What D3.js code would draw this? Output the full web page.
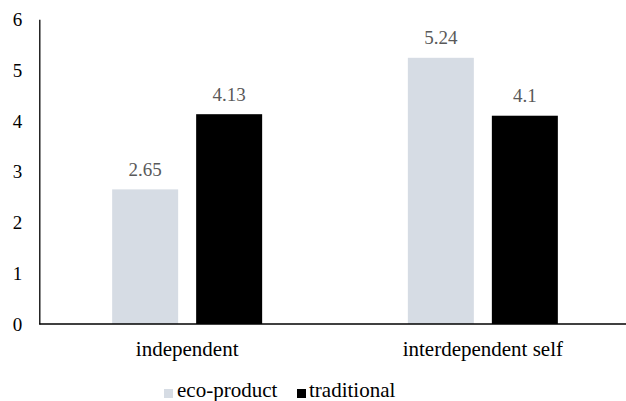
<!DOCTYPE html>
<html><head><meta charset="utf-8">
<script src="https://cdn.jsdelivr.net/npm/d3@7"></script>
<style>body{margin:0;background:#fff}svg{display:block}</style>
</head><body>
<svg id="c" width="626" height="401"></svg>
<script>
const categories = ["independent", "interdependent self"];
const seriesNames = ["eco-product", "traditional"];
const ecoValues = [2.65, 5.24];
const tradValues = [4.13, 4.1];
const valueLabels = [["2.65", "4.13"], ["5.24", "4.1"]];
const yTicks = [0, 1, 2, 3, 4, 5, 6];
const colors = ["#d6dce4", "#000000"];
const FONT = "'Liberation Serif', 'Times New Roman', Times, 'DejaVu Serif', serif";

const svg = d3.select("#c");
const x0 = d3.scaleBand().domain(categories).range([39.3, 630.7]).paddingInner(0).paddingOuter(0);
const y = d3.scaleLinear().domain([0, 6]).range([324, 19.2]);
const barW = 66, gap = 18;

const data = categories.map((c, i) => ({cat: c, vals: [ecoValues[i], tradValues[i]], labels: valueLabels[i]}));

data.forEach(d => {
  const cx = x0(d.cat) + x0.bandwidth() / 2;
  const xs = [cx - gap / 2 - barW, cx + gap / 2];
  d.vals.forEach((v, j) => {
    svg.append("rect").attr("x", xs[j]).attr("y", y(v)).attr("width", barW)
      .attr("height", y(0) - y(v)).attr("fill", colors[j]);
    svg.append("text").attr("x", xs[j] + barW / 2).attr("y", y(v) - 13.5)
      .attr("text-anchor", "middle").style("font-family", FONT).style("font-size", "19px")
      .attr("fill", "#595959").text(d.labels[j]);
  });
  svg.append("text").attr("x", cx).attr("y", 355.5).attr("text-anchor", "middle")
    .style("font-family", FONT).style("font-size", "21px").attr("fill", "#000").text(d.cat);
});

const yAxis = d3.axisLeft(y).tickValues(yTicks).tickSize(0).tickPadding(17).tickFormat(d3.format("d"));
const gy = svg.append("g").attr("transform", "translate(39.3,0)").call(yAxis)
  .attr("font-family", null).attr("font-size", null);
gy.select(".domain").attr("stroke", "#000").attr("stroke-width", 1.3);
gy.selectAll("text").style("font-family", FONT).style("font-size", "19px").attr("fill", "#000").attr("dy", "0.33em");
svg.append("line").attr("x1", 39.3).attr("x2", 626).attr("y1", y(0)).attr("y2", y(0))
  .attr("stroke", "#000").attr("stroke-width", 1.3);

const leg = [{x: 164, tx: 177}, {x: 297, tx: 309}];
seriesNames.forEach((s, j) => {
  svg.append("rect").attr("x", leg[j].x).attr("y", 389).attr("width", 9).attr("height", 9).attr("fill", colors[j]);
  svg.append("text").attr("x", leg[j].tx).attr("y", 397).style("font-family", FONT).style("font-size", "21px")
    .attr("fill", "#000").text(s);
});
</script>
</body></html>
